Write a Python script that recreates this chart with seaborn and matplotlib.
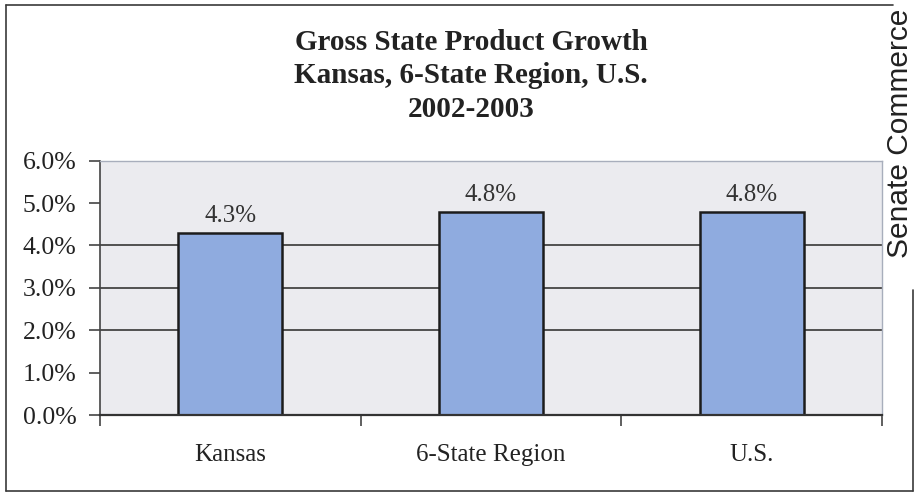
import matplotlib
matplotlib.use("Agg")
import matplotlib.pyplot as plt
from matplotlib.lines import Line2D
import pandas as pd
import seaborn as sns

# Chart data
regions = ["Kansas", "6-State Region", "U.S."]
growth_pct = [4.3, 4.8, 4.8]
y_ticks = [0, 1, 2, 3, 4, 5, 6]
grid_levels = [2, 3, 4]
title_lines = ["Gross State Product Growth", "Kansas, 6-State Region, U.S.", "2002-2003"]
side_note = "Senate Commerce"

sns.set_style("white")
plt.rcParams["font.family"] = ["Liberation Serif", "DejaVu Serif"]

W, H = 915, 495
fig = plt.figure(figsize=(W / 100, H / 100), dpi=100)
fig.patch.set_facecolor("white")

# plot area in pixel terms
left, right, top, bottom = 100, 882, 160.7, 415
ax = fig.add_axes([left / W, 1 - bottom / H, (right - left) / W, (bottom - top) / H])
ax.set_facecolor("#ebebef")

for lvl in grid_levels:
    ax.axhline(lvl, color="#505050", lw=1.4, zorder=0.5)

df = pd.DataFrame({"region": regions, "growth": growth_pct})
sns.barplot(data=df, x="region", y="growth", ax=ax, color="#8fabdf",
            saturation=1, edgecolor="#1c1c1c", linewidth=1.8, width=0.4)

ax.bar_label(ax.containers[0], labels=[f"{v:.1f}%" for v in growth_pct],
             padding=4, fontsize=18, color="#333333")

ax.set_xlim(-0.5, len(regions) - 0.5)
ax.set_ylim(0, 6)
ax.set_yticks(y_ticks)
ax.set_yticklabels([f"{v:.1f}%" for v in y_ticks])
ax.set_xlabel("")
ax.set_ylabel("")

ax.tick_params(axis="y", length=8, width=1.2, color="#444444", pad=9,
               labelsize=18.5, labelcolor="#222222", left=True)
ax.tick_params(axis="x", which="major", length=0, pad=21,
               labelsize=18, labelcolor="#222222")
ax.set_xticks([i - 0.5 for i in range(len(regions) + 1)], minor=True)
ax.tick_params(axis="x", which="minor", length=8, width=1.2, color="#444444",
               direction="out", bottom=True)

for side, col, lw in [("left", "#444444", 1.2), ("bottom", "#333333", 1.6),
                      ("top", "#a8aebc", 1.0), ("right", "#a8aebc", 1.0)]:
    ax.spines[side].set_visible(True)
    ax.spines[side].set_color(col)
    ax.spines[side].set_linewidth(lw)

# Title block
fig.text(471 / W, 1 - 29 / H, "\n".join(title_lines), ha="center", va="top",
         fontsize=21, fontweight="bold", color="#222222", linespacing=1.3)

# Outer frame of the chart
def px_line(x0, y0, x1, y1, **kw):
    fig.add_artist(Line2D([x0 / W, x1 / W], [1 - y0 / H, 1 - y1 / H],
                          transform=fig.transFigure, **kw))

frame = dict(color="#3a3a3a", lw=1.2)
px_line(6, 5, 893, 5, **frame)
px_line(6, 5, 6, 491, **frame)
px_line(6, 491, 913, 491, **frame)
px_line(913, 290, 913, 491, **frame)

# Margin note running up the right edge
fig.text(914.5 / W, 1 - 258 / H, side_note, rotation=90, ha="right", va="bottom",
         fontsize=21.5, color="#222222", family=["Liberation Sans", "DejaVu Sans"])

fig.savefig("out.png", dpi=100)
